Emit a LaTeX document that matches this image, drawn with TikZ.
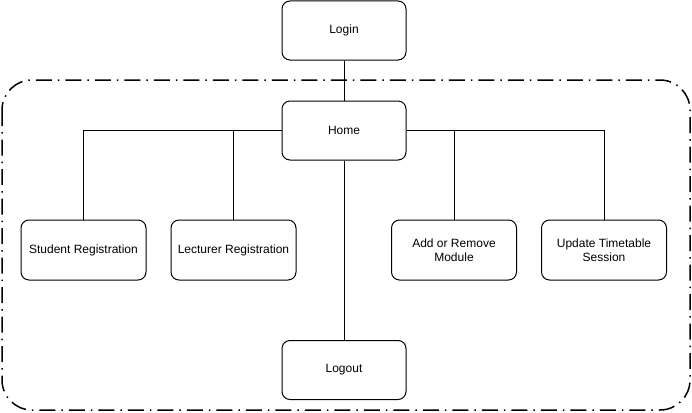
\documentclass[tikz,border=0pt]{standalone}
\usepackage{fontspec}
\setmainfont{Liberation Sans}
\begin{document}
\begin{tikzpicture}[x=1pt,y=-1pt,
  box/.style={draw,line width=1pt,rounded corners=8pt,minimum width=124pt,minimum height=59pt,align=center,font=\fontsize{12}{14}\selectfont,inner sep=2pt},
  conn/.style={draw,line width=0.8pt}]
\useasboundingbox (0,0) rectangle (692,412);
\draw[line width=1.5pt,dash pattern=on 16pt off 6pt on 1.5pt off 6pt,rounded corners=30pt] (2,80) rectangle (690,410);
\node[box] (login) at (344,30.5) {Login};
\node[box] (home) at (344,130.5) {Home};
\node[box,minimum width=125pt,minimum height=60pt] (stud) at (83.5,250) {Student Registration};
\node[box,minimum width=125pt,minimum height=60pt] (lect) at (233.5,250) {Lecturer Registration};
\node[box,minimum width=125pt,minimum height=60pt] (mod) at (454,250) {Add or Remove\\Module};
\node[box,minimum width=125pt,minimum height=60pt] (upd) at (604,250) {Update Timetable\\Session};
\node[box] (logout) at (344,370) {Logout};
\draw[conn] (login) -- (home);
\draw[conn] (home.west) -| (stud.north);
\draw[conn] (home.west) -| (lect.north);
\draw[conn] (home.east) -| (upd.north);
\draw[conn] (home.east) -| (mod.north);
\draw[conn] (home) -- (logout);
\end{tikzpicture}
\end{document}
